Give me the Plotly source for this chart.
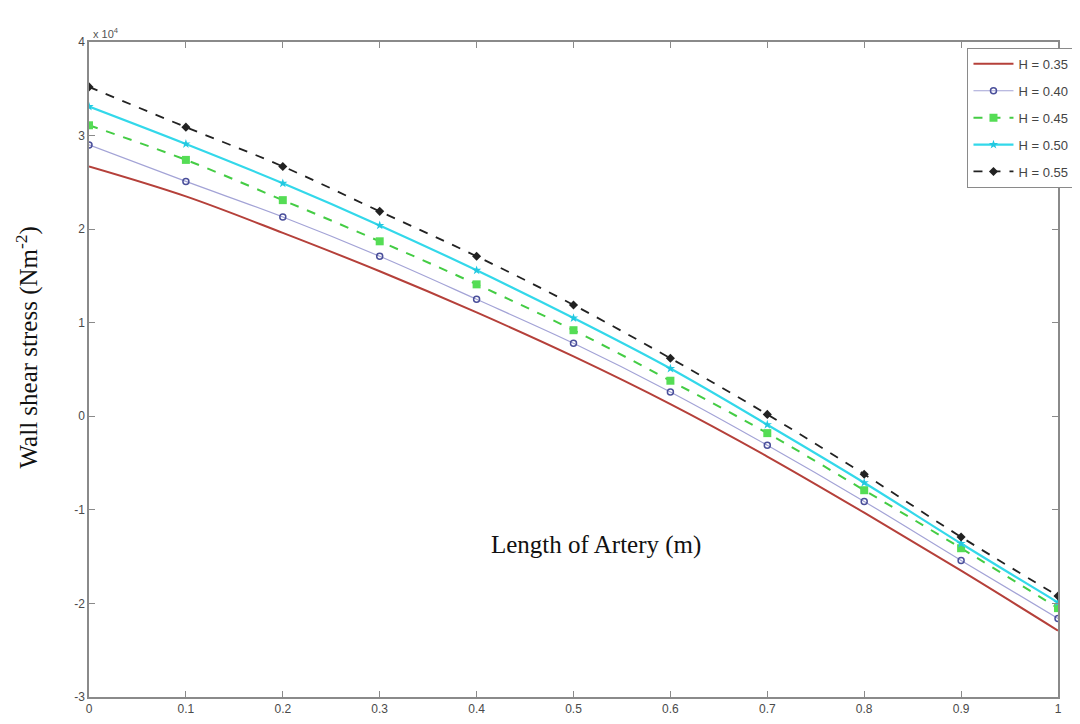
import plotly.graph_objects as go

x_vals = [0.0, 0.1, 0.2, 0.3, 0.4, 0.5, 0.6, 0.7, 0.8, 0.9, 1.0]

# Wall shear stress in units of 1e4 N/m^2
h035 = [2.67, 2.35, 1.96, 1.55, 1.11, 0.64, 0.13, -0.43, -1.03, -1.65, -2.29]
h040 = [2.90, 2.51, 2.13, 1.71, 1.25, 0.78, 0.26, -0.31, -0.91, -1.54, -2.16]
h045 = [3.11, 2.74, 2.31, 1.87, 1.41, 0.92, 0.38, -0.18, -0.79, -1.41, -2.05]
h050 = [3.31, 2.91, 2.49, 2.04, 1.56, 1.05, 0.51, -0.09, -0.71, -1.36, -1.99]
h055 = [3.52, 3.09, 2.67, 2.19, 1.71, 1.19, 0.62, 0.02, -0.62, -1.29, -1.92]

labels = ["H = 0.35", "H = 0.40", "H = 0.45", "H = 0.50", "H = 0.55"]
x_ticks = [0, 0.1, 0.2, 0.3, 0.4, 0.5, 0.6, 0.7, 0.8, 0.9, 1]
x_ticktext = ["0", "0.1", "0.2", "0.3", "0.4", "0.5", "0.6", "0.7", "0.8", "0.9", "1"]
y_ticks = [-3, -2, -1, 0, 1, 2, 3, 4]
y_ticktext = ["-3", "-2", "-1", "0", "1", "2", "3", "4"]

fig = go.Figure()

fig.add_trace(go.Scatter(
    x=x_vals, y=h035, name=labels[0], mode="lines", legendgroup="a",
    line=dict(color="#b5403a", width=2, shape="spline")))
fig.add_trace(go.Scatter(
    x=x_vals, y=h040, name=labels[1], mode="lines+markers", legendgroup="b",
    line=dict(color="#a3a3d6", width=1.2, shape="spline"),
    marker=dict(symbol="circle-open", size=6, color="#4a4f9a", line=dict(width=1.5))))
fig.add_trace(go.Scatter(
    x=x_vals, y=h045, name=labels[2], mode="lines+markers", legendgroup="c",
    line=dict(color="#44cc44", width=2, dash="dash", shape="spline"),
    marker=dict(symbol="square", size=8, color="#55dd55")))
fig.add_trace(go.Scatter(
    x=x_vals, y=h050, name=labels[3], mode="lines+markers", legendgroup="d",
    line=dict(color="#33d8ea", width=2.2, shape="spline"),
    marker=dict(symbol="star", size=7, color="#22c8e0")))
fig.add_trace(go.Scatter(
    x=x_vals, y=h055, name=labels[4], mode="lines+markers", legendgroup="e",
    line=dict(color="#222222", width=1.8, dash="dash", shape="spline"),
    marker=dict(symbol="diamond", size=7, color="#222222")))

axis_common = dict(
    showgrid=False, zeroline=False, showline=True, linecolor="#8a8a8a", linewidth=1.5,
    mirror="ticks", ticks="inside", ticklen=6, tickcolor="#8a8a8a",
    tickfont=dict(family="Liberation Sans, Arial", size=12, color="#4a4a4a"),
)

fig.update_layout(
    width=1080, height=724,
    paper_bgcolor="white", plot_bgcolor="white",
    margin=dict(l=81, r=30, t=34, b=35, autoexpand=False),
    showlegend=True,
    legend=dict(
        x=1.017, y=0.991, xanchor="right", yanchor="top",
        bgcolor="white", bordercolor="#8a8a8a", borderwidth=1,
        font=dict(family="Liberation Sans, Arial", size=13, color="#444444"),
        tracegroupgap=7, itemwidth=40,
    ),
    xaxis=dict(range=[0, 1], tickvals=x_ticks, ticktext=x_ticktext, **axis_common),
    yaxis=dict(range=[-3, 4], tickvals=y_ticks, ticktext=y_ticktext, **axis_common),
    annotations=[
        dict(text="x 10<sup>4</sup>", x=0.0, y=1.0, xref="paper", yref="paper",
             xanchor="left", yanchor="bottom", showarrow=False, xshift=2,
             font=dict(family="Liberation Sans, Arial", size=11, color="#555555")),
        dict(text="Wall shear stress (Nm<sup>-2</sup>)", x=0, y=0.5, xref="paper", yref="paper",
             xanchor="center", yanchor="middle", showarrow=False, textangle=-90,
             xshift=-62, yshift=22,
             font=dict(family="Liberation Serif, Times New Roman", size=25, color="#111111")),
        dict(text="Length of Artery (m)", x=0.523, y=-1.38, xref="paper", yref="y",
             xanchor="center", yanchor="middle", showarrow=False,
             font=dict(family="Liberation Serif, Times New Roman", size=25, color="#111111")),
    ],
)

fig.write_html("out.html")
